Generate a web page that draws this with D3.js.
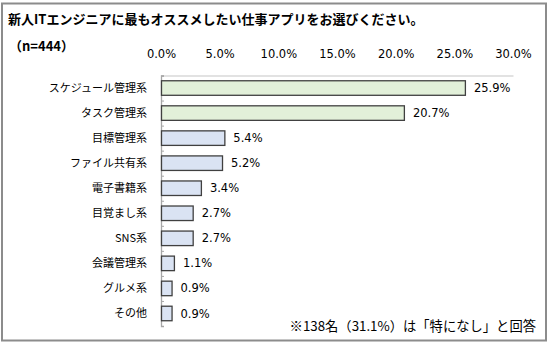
<!DOCTYPE html>
<html><head><meta charset="utf-8">
<script src="https://cdn.jsdelivr.net/npm/d3@7"></script>
<style>
html,body{margin:0;padding:0;background:#fff;}
svg{display:block;}
</style></head>
<body>
<script>
const title = "新人ITエンジニアに最もオススメしたい仕事アプリをお選びください。";
const sampleLabel = "（n=444）";
const note = "※138名（31.1%）は「特になし」と回答";
const categories = ["スケジュール管理系","タスク管理系","目標管理系","ファイル共有系","電子書籍系","目覚まし系","SNS系","会議管理系","グルメ系","その他"];
const values = [25.9,20.7,5.4,5.2,3.4,2.7,2.7,1.1,0.9,0.9];
const highlighted = ["スケジュール管理系","タスク管理系"];
const tickValues = [0,5,10,15,20,25,30];

const W=550,H=344;
const svg=d3.select("body").append("svg").attr("width",W).attr("height",H);
const jp="'Noto Sans CJK JP','Noto Sans',sans-serif";
const num="'DejaVu Sans',Verdana,sans-serif";

svg.append("rect").attr("x",2).attr("y",3.5).attr("width",544).attr("height",337)
  .attr("fill","#fff").attr("stroke","#8c8c8c").attr("stroke-width",2);

svg.append("text").attr("x",8).attr("y",24).text(title)
  .attr("font-family",jp).attr("font-weight","bold").attr("font-size",13).attr("fill","#000");
svg.append("text").attr("x",9).attr("y",51).text(sampleLabel)
  .attr("font-family",jp).attr("font-weight","bold").attr("font-size",13).attr("fill","#000");

const x=d3.scaleLinear().domain([0,30]).range([161,513]);
const y=d3.scaleBand().domain(categories).range([75.5,326]).paddingInner(0.42).paddingOuter(0.21);

// top axis
const xa=svg.append("g").attr("transform","translate(0,75.5)")
  .call(d3.axisTop(x).tickValues(tickValues).tickSize(0).tickPadding(18).tickFormat(d=>d3.format(".1f")(d)+"%"));
xa.select(".domain").attr("stroke","#d9d9d9").attr("stroke-width",1.3);
xa.selectAll("text").attr("font-family",num).attr("font-size",11.5).attr("fill","#000");

// left axis with ticks at band boundaries
const yi=d3.scaleLinear().domain([0,categories.length]).range([75.5,326]);
const ya=svg.append("g").attr("transform","translate(161,0)")
  .call(d3.axisRight(yi).ticks(categories.length).tickSize(3).tickFormat(""));
ya.select(".domain").attr("stroke","#a6a6a6").attr("stroke-width",1.3);
ya.selectAll(".tick line").attr("stroke","#a6a6a6");

// category labels
svg.append("g").selectAll("text").data(categories).join("text")
  .attr("x",147).attr("y",d=>y(d)+y.bandwidth()/2).attr("dy","0.35em")
  .attr("text-anchor","end").attr("font-family",jp).attr("font-size",11).attr("fill","#000")
  .text(d=>d);

// bars
svg.append("g").selectAll("rect").data(categories).join("rect")
  .attr("x",x(0)+0.5).attr("y",d=>y(d)).attr("height",y.bandwidth())
  .attr("width",(d,i)=>x(values[i])-x(0))
  .attr("fill",d=>highlighted.includes(d)?"#e2f0d9":"#dae3f3")
  .attr("stroke","#404040").attr("stroke-width",1.3);

// value labels
svg.append("g").selectAll("text").data(categories).join("text")
  .attr("x",(d,i)=>x(values[i])+9).attr("y",d=>y(d)+y.bandwidth()/2).attr("dy","0.35em")
  .attr("font-family",num).attr("font-size",11.5).attr("fill","#000")
  .text((d,i)=>values[i].toFixed(1)+"%");

svg.append("text").attr("x",536).attr("y",331).attr("text-anchor","end").text(note)
  .attr("font-family",jp).attr("font-size",13.3).attr("fill","#000");
</script>
</body></html>
